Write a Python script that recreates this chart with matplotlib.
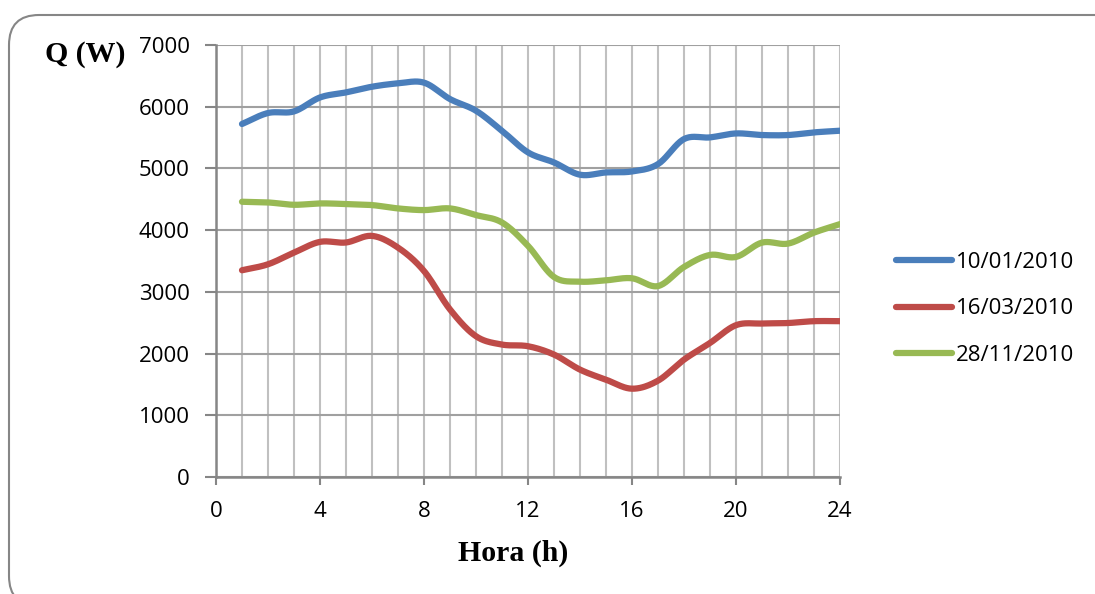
import numpy as np
import matplotlib.pyplot as plt
from matplotlib.patches import FancyBboxPatch
from matplotlib.ticker import MultipleLocator

hours = list(range(1, 25))
q_jan = [5720, 5898, 5924, 6150, 6232, 6324, 6378, 6390, 6124, 5935, 5610, 5260,
         5097, 4898, 4935, 4951, 5070, 5476, 5503, 5567, 5541, 5541, 5584, 5611]
q_mar = [3350, 3447, 3636, 3810, 3800, 3907, 3717, 3338, 2715, 2281, 2146, 2119,
         1984, 1740, 1577, 1431, 1561, 1902, 2172, 2460, 2487, 2495, 2525, 2525]
q_nov = [4460, 4449, 4411, 4433, 4423, 4406, 4352, 4325, 4352, 4244, 4124, 3745,
         3241, 3165, 3187, 3220, 3094, 3403, 3598, 3566, 3798, 3782, 3960, 4098]
labels = ['10/01/2010', '16/03/2010', '28/11/2010']
colors = ['#4a7ebb', '#be4b48', '#98b954']


def smooth(x, y, n=20):
    # catmull-rom through the points, like excel's smoothed line
    x = np.asarray(x, float)
    y = np.asarray(y, float)
    px = np.concatenate([[2 * x[0] - x[1]], x, [2 * x[-1] - x[-2]]])
    py = np.concatenate([[2 * y[0] - y[1]], y, [2 * y[-1] - y[-2]]])
    t = np.linspace(0, 1, n, endpoint=False)
    xs, ys = [], []
    for i in range(1, len(px) - 2):
        for p, out in ((px, xs), (py, ys)):
            p0, p1, p2, p3 = p[i - 1], p[i], p[i + 1], p[i + 2]
            out.extend(0.5 * (2 * p1 + (-p0 + p2) * t
                              + (2 * p0 - 5 * p1 + 4 * p2 - p3) * t ** 2
                              + (-p0 + 3 * p1 - 3 * p2 + p3) * t ** 3))
    xs.append(x[-1])
    ys.append(y[-1])
    return np.array(xs), np.array(ys)


tick_font = 'Open Sans'
fig = plt.figure(figsize=(10.95, 5.94), dpi=100)
ax = fig.add_axes([216 / 1095, 1 - 477 / 594, 624 / 1095, 432 / 594])

for vals, lab, c in zip([q_jan, q_mar, q_nov], labels, colors):
    sx, sy = smooth(hours, vals)
    ax.plot(sx, sy, color=c, lw=4.5, label=lab, solid_capstyle='round', zorder=3)

ax.set_xlim(0, 24)
ax.set_ylim(0, 7000)
ax.xaxis.set_major_locator(MultipleLocator(4))
ax.xaxis.set_minor_locator(MultipleLocator(1))
ax.yaxis.set_major_locator(MultipleLocator(1000))
ax.grid(axis='x', which='both', color='#c0c0c0', lw=1.5, zorder=0)
ax.grid(axis='y', which='major', color='#a0a0a0', lw=1.5, zorder=0)
ax.tick_params(axis='x', which='minor', length=0)
ax.tick_params(axis='x', which='major', length=6, width=1.5, color='#868686', pad=11)
ax.tick_params(axis='y', length=8, width=1.5, color='#868686', pad=11)
for s in ['top', 'right']:
    ax.spines[s].set_visible(False)
for s in ['left', 'bottom']:
    ax.spines[s].set_color('#868686')
    ax.spines[s].set_linewidth(1.8)
for lbl in ax.get_xticklabels() + ax.get_yticklabels():
    lbl.set_fontfamily(tick_font)
    lbl.set_fontsize(16)

fig.text(513 / 1095, 1 - 553 / 594, 'Hora (h)', family='Liberation Serif',
         weight='bold', fontsize=21.5, ha='center', va='center')
fig.text(85 / 1095, 1 - 55 / 594, 'Q (W)', family='Liberation Serif',
         weight='bold', fontsize=21.5, ha='center', va='center')

leg = fig.legend(loc='center left', bbox_to_anchor=(876 / 1095, 1 - 309 / 594),
                 frameon=False, prop={'family': tick_font, 'size': 16},
                 handlelength=2.5, handletextpad=0.2, labelspacing=1.15)

border = FancyBboxPatch((9, -12), 1120, 591, boxstyle='round,pad=0,rounding_size=30',
                        transform=None, fill=False, edgecolor='#868686', lw=1.5,
                        clip_on=False)
fig.patches.append(border)

fig.savefig('out.png', dpi=100)
